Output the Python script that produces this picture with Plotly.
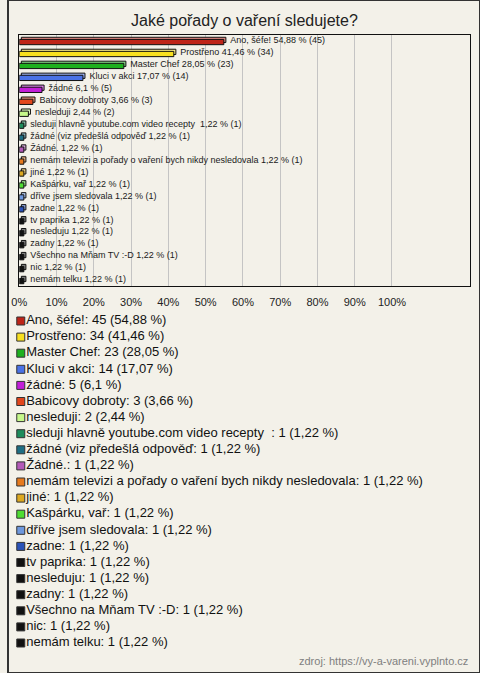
import plotly.graph_objects as go

W, H = 480, 673

names = [
    "Ano, šéfe!", "Prostřeno", "Master Chef", "Kluci v akci", "žádné",
    "Babicovy dobroty", "nesleduji", "sleduji hlavně youtube.com video recepty ",
    "žádné (viz předešlá odpověď", "Žádné.", "nemám televizi a pořady o vaření bych nikdy nesledovala",
    "jiné", "Kašpárku, vař", "dříve jsem sledovala", "zadne", "tv paprika",
    "nesleduju", "zadny", "Všechno na Mňam TV :-D", "nic", "nemám telku",
]
counts = [45, 34, 23, 14, 5, 3, 2, 1, 1, 1, 1, 1, 1, 1, 1, 1, 1, 1, 1, 1, 1]
percents = [54.88, 41.46, 28.05, 17.07, 6.1, 3.66, 2.44, 1.22, 1.22, 1.22, 1.22,
            1.22, 1.22, 1.22, 1.22, 1.22, 1.22, 1.22, 1.22, 1.22, 1.22]
colors = [
    "#BE2418", "#F8E020", "#1EB01E", "#4A72E6", "#C21ED8",
    "#E2461C", "#C6F88A", "#1E8C5C", "#1E6E84", "#B45AB8",
    "#E67A1E", "#DCA820", "#4EDC32", "#6E98DE", "#2A52B8",
    "#111111", "#111111", "#111111", "#111111", "#111111", "#111111",
]
tick_values = [0, 10, 20, 30, 40, 50, 60, 70, 80, 90, 100]
tick_labels = [f"{v}%" for v in tick_values]

title_text = "Jaké pořady o vaření sledujete?"
source_text = "zdroj: https://vy-a-vareni.vyplnto.cz"

n = len(names)
FONT = "Liberation Sans, Arial, sans-serif"


def fmt(p):
    return f"{p:g}".replace(".", ",")


def keep_spaces(s):
    return s.replace("  ", " \u00a0")


def lighten(hexc, f=0.45):
    h = hexc.lstrip("#")
    r, g, b = int(h[0:2], 16), int(h[2:4], 16), int(h[4:6], 16)
    r = int(r + (255 - r) * f)
    g = int(g + (255 - g) * f)
    b = int(b + (255 - b) * f)
    return f"#{r:02x}{g:02x}{b:02x}"


bar_labels = [keep_spaces(f"{nm} {fmt(p)} % ({c})") for nm, p, c in zip(names, percents, counts)]
legend_labels = [keep_spaces(f"{nm} : {c} ({fmt(p)} %)") if nm.endswith(" ")
                 else f"{nm}: {c} ({fmt(p)} %)" for nm, p, c in zip(names, percents, counts)]
cats = list(range(n))

# geometry (pixels)
px_left, px_right = 11.5, 470
px_top, px_bot = 35, 286
px_per_pct = 3.79
depth = 0.55  # 3D depth in % units
label_gap = 1.2  # extra gap in % units

fig = go.Figure()

# back (top) face of pseudo-3D bars
fig.add_trace(go.Bar(
    y=cats, x=percents, base=[depth] * n, orientation="h",
    width=0.44, offset=-0.31,
    marker=dict(color=[lighten(c) for c in colors], line=dict(color="#111", width=1)),
    hoverinfo="skip", showlegend=False, xaxis="x", yaxis="y",
))
# front face
fig.add_trace(go.Bar(
    y=cats, x=percents, orientation="h",
    width=0.44, offset=-0.13,
    marker=dict(color=colors, line=dict(color="#111", width=1)),
    showlegend=False, xaxis="x", yaxis="y",
))
# bar labels
fig.add_trace(go.Scatter(
    y=cats, x=[p + depth + label_gap for p in percents], mode="text",
    text=bar_labels, textposition="middle right",
    textfont=dict(family=FONT, size=9, color="#1a1a1a"),
    showlegend=False, hoverinfo="skip", xaxis="x", yaxis="y", cliponaxis=False,
))

# custom legend: swatches
fig.add_trace(go.Scatter(
    x=[13] * n, y=cats, mode="markers",
    marker=dict(symbol="square", size=8, color=colors, line=dict(color="#333", width=1)),
    showlegend=False, hoverinfo="skip", xaxis="x2", yaxis="y2", cliponaxis=False,
))
# custom legend: texts
fig.add_trace(go.Scatter(
    x=[18.5] * n, y=cats, mode="text",
    text=legend_labels, textposition="middle right",
    textfont=dict(family=FONT, size=13, color="#111"),
    showlegend=False, hoverinfo="skip", xaxis="x2", yaxis="y2", cliponaxis=False,
))

leg_first, leg_last = 321, 643
step = (leg_last - leg_first) / (n - 1)
leg_top = leg_first - step / 2
leg_bot = leg_last + step / 2

fig.update_layout(
    width=W, height=H,
    margin=dict(l=0, r=0, t=0, b=0),
    paper_bgcolor="#F3F1E9", plot_bgcolor="rgba(0,0,0,0)",
    barmode="overlay",
    font=dict(family=FONT, color="#222"),
    xaxis=dict(
        domain=[px_left / W, px_right / W], range=[0, (px_right - px_left) / px_per_pct],
        tickmode="array", tickvals=tick_values, ticktext=tick_labels,
        showgrid=True, gridcolor="#C4C4C4", gridwidth=1,
        showline=True, mirror=True, linecolor="#111", linewidth=1, zeroline=False,
        tickfont=dict(family=FONT, size=11, color="#222"), ticks="", ticklabelstandoff=6,
        anchor="y", fixedrange=True,
    ),
    yaxis=dict(
        domain=[1 - px_bot / H, 1 - px_top / H], range=[n - 0.5, -0.5],
        showticklabels=False, showgrid=False, zeroline=False,
        showline=True, mirror=True, linecolor="#111", linewidth=1, anchor="x",
    ),
    xaxis2=dict(domain=[0, 1], range=[0, W], visible=False, anchor="y2"),
    yaxis2=dict(domain=[1 - leg_bot / H, 1 - leg_top / H], range=[n - 0.5, -0.5],
                visible=False, anchor="x2"),
    shapes=[dict(type="rect", xref="paper", yref="paper", x0=0, y0=0, x1=1, y1=1,
                 line=dict(color="#333", width=2), fillcolor="rgba(0,0,0,0)")],
    annotations=[
        dict(text=title_text, xref="paper", yref="paper", x=0.5, y=1 - 20 / H,
             xanchor="center", yanchor="middle", showarrow=False,
             font=dict(family=FONT, size=16, color="#222")),
        dict(text=source_text, xref="paper", yref="paper", x=470 / W, y=1 - 661 / H,
             xanchor="right", yanchor="middle", showarrow=False,
             font=dict(family=FONT, size=11, color="#808080")),
    ],
)

fig.write_html(
    "out.html",
    config={"displayModeBar": False},
    post_script="document.body.style.margin='0';document.body.style.overflow='hidden';",
)
